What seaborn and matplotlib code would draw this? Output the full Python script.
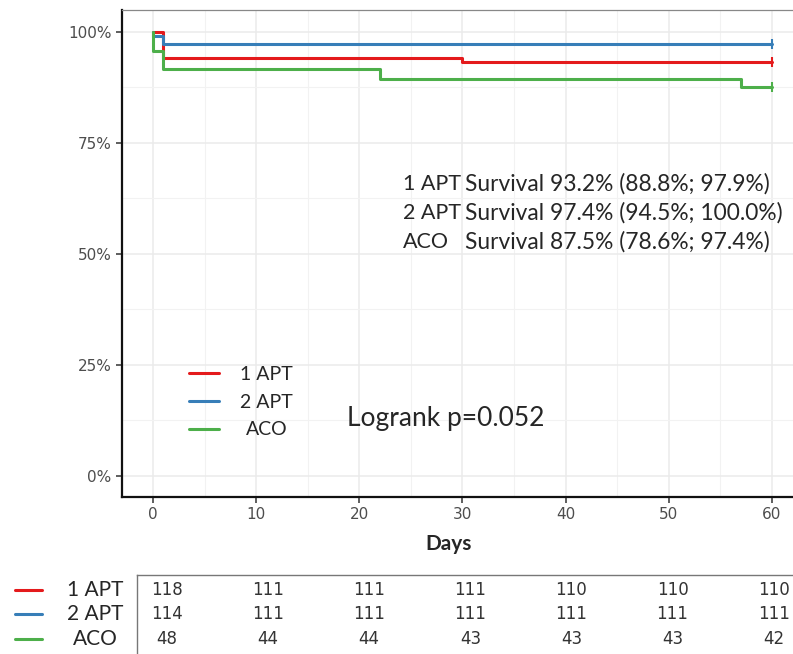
import numpy as np
import pandas as pd
import seaborn as sns
import matplotlib.pyplot as plt
from matplotlib.ticker import PercentFormatter, MultipleLocator
from matplotlib.lines import Line2D

# Kaplan-Meier steps (days, survival %)
groups = ["1 APT", "2 APT", "ACO"]
colors = ["#E41A1C", "#377EB8", "#4DAF4A"]

days_1apt = [0, 1, 30, 60]
surv_1apt = [100, 94.1, 93.2, 93.2]
days_2apt = [0, 0, 1, 60]
surv_2apt = [100, 99.1, 97.4, 97.4]
days_aco = [0, 0, 1, 22, 57, 60]
surv_aco = [100, 95.8, 91.7, 89.5, 87.5, 87.5]

# number at risk
risk_times = [0, 10, 20, 30, 40, 50, 60]
risk_1apt = [118, 111, 111, 111, 110, 110, 110]
risk_2apt = [114, 111, 111, 111, 111, 111, 111]
risk_aco = [48, 44, 44, 43, 43, 43, 42]

summary = [
    ("1 APT", "Survival 93.2% (88.8%; 97.9%)"),
    ("2 APT", "Survival 97.4% (94.5%; 100.0%)"),
    ("ACO", "Survival 87.5% (78.6%; 97.4%)"),
]
pval_text = "Logrank p=0.052"

df = pd.concat([
    pd.DataFrame({"Days": days_1apt, "surv": surv_1apt, "group": "1 APT"}),
    pd.DataFrame({"Days": days_2apt, "surv": surv_2apt, "group": "2 APT"}),
    pd.DataFrame({"Days": days_aco, "surv": surv_aco, "group": "ACO"}),
], ignore_index=True)

sns.set_style("white")
plt.rcParams['font.family'] = ['DejaVu Sans']

W, H = 793, 654
fig = plt.figure(figsize=(W / 100, H / 100), dpi=100)
ax = fig.add_axes([122 / W, 157 / H, 681 / W, 487 / H])

pal = dict(zip(groups, colors))
for g in groups:
    sub = df[df["group"] == g]
    sns.lineplot(data=sub, x="Days", y="surv", color=pal[g], drawstyle="steps-post",
                 estimator=None, sort=False, lw=2.2, ax=ax, legend=False)
    last = sub.iloc[[-1]]
    sns.scatterplot(data=last, x="Days", y="surv", marker="|", s=60, color=pal[g],
                    linewidth=1.5, ax=ax, legend=False, zorder=5)

ax.set_xlim(-3.0, 63.0)
ax.set_ylim(-4.73, 104.95)
ax.xaxis.set_major_locator(MultipleLocator(10))
ax.xaxis.set_minor_locator(MultipleLocator(5))
ax.yaxis.set_major_locator(MultipleLocator(25))
ax.yaxis.set_minor_locator(MultipleLocator(12.5))
ax.yaxis.set_major_formatter(PercentFormatter(100, decimals=0))
ax.grid(which="major", color="#EBEBEB", lw=1.1)
ax.grid(which="minor", color="#F2F2F2", lw=0.8)
ax.set_axisbelow(True)
for s in ["top", "right"]:
    ax.spines[s].set_color("#888888")
    ax.spines[s].set_linewidth(0.9)
for s in ["left", "bottom"]:
    ax.spines[s].set_color("#111111")
    ax.spines[s].set_linewidth(1.6)
ax.tick_params(which="major", length=4, width=1.1, color="#333333",
               labelsize=11, labelcolor="#4D4D4D", left=True, bottom=True)
ax.tick_params(which="minor", length=0)
ax.set_ylabel("")
ax.set_xlabel("Days", fontsize=15, family="Lato", fontweight="bold", labelpad=8)
ax.xaxis.set_label_coords(0.479, -0.075)

# in-plot legend, labels centred like the original
handles = [Line2D([], [], color=c, lw=2.2) for c in colors]
leg = ax.legend(handles, groups, loc="upper left", bbox_to_anchor=(0.072, 0.305),
                frameon=False, handlelength=1.55, handletextpad=1.1,
                labelspacing=0.55, prop={"family": "Lato", "size": 14})
renderer = fig.canvas.get_renderer()
widths = [t.get_window_extent(renderer).width for t in leg.get_texts()]
for t, w in zip(leg.get_texts(), widths):
    t.set_position(((max(widths) - w) / 2, 0))

# survival summary text
for i, (g, s) in enumerate(summary):
    ytxt = 0.630 - i * 0.0596
    ax.text(0.413, ytxt, g, transform=ax.transAxes, fontsize=15.5, family="Lato",
            va="baseline", ha="left")
    ax.text(0.5035, ytxt, s, transform=ax.transAxes, fontsize=16.4, family="Lato",
            va="baseline", ha="left")

ax.text(0.330, 0.146, pval_text, transform=ax.transAxes, fontsize=19, family="Lato",
        va="baseline", ha="left")

# risk table
tab = fig.add_axes([137 / W, -6 / H, 667 / W, 85 / H])
tab.set_xlim(-2.97, 63.0)
tab.set_ylim(2.857, -0.612)
risk = [risk_1apt, risk_2apt, risk_aco]
for r, row in enumerate(risk):
    for t, n in zip(risk_times, row):
        tab.text(t, r, str(n), ha="center", va="center", fontsize=12, color="#333333")
tab.set_xticks([])
tab.set_yticks([])
for s in ["bottom", "right"]:
    tab.spines[s].set_visible(False)
for s in ["top", "left"]:
    tab.spines[s].set_color("#777777")
    tab.spines[s].set_linewidth(1.0)

# table row labels with coloured keys
for r, (g, c) in enumerate(zip(groups, colors)):
    yfig = tab.transData.transform((0, r))[1]
    yf = yfig / fig.dpi / fig.get_figheight()
    fig.add_artist(Line2D([15 / W, 42 / W], [yf, yf], color=c, lw=2.2))
    fig.text(95 / W, yf, g, ha="center", va="center", fontsize=15, family="Lato")

fig.savefig("out.png", dpi=100)
